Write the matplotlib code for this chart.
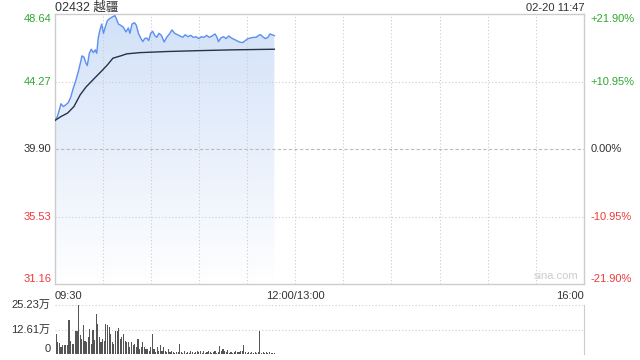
import matplotlib.pyplot as plt
import matplotlib.patches as patches
from matplotlib.colors import LinearSegmentedColormap
import numpy as np

plt.rcParams['font.family'] = ['Liberation Sans', 'Noto Sans CJK SC']

# chart texts
title = '02432 越疆'
stamp = '02-20 11:47'
time_labels = ['09:30', '12:00/13:00', '16:00']
time_pos = [0, 150, 330]
price_ticks = [48.64, 44.27, 39.90, 35.53, 31.16]
pct_labels = ['+21.90%', '+10.95%', '0.00%', '-10.95%', '-21.90%']
vol_ticks = [25.23, 12.61, 0]
vol_labels = ['25.23万', '12.61万', '0']

# price line (minutes after 09:30, HKD)
price_min = [0.3, 1.8, 3.0, 4.0, 5.5, 7.0, 8.6, 10.1, 11.7, 13.4, 15.1, 16.3, 17.1, 18.4,
             19.6, 20.4, 21.7, 22.9, 24.2, 25.4, 26.3, 27.3, 28.4, 29.4, 30.5, 31.7, 32.9,
             34.6, 36.3, 37.7, 38.7, 39.8, 41.2, 42.9, 44.5, 46.0, 47.0, 48.3, 49.8, 51.0,
             52.3, 53.5, 55.0, 56.2, 57.4, 58.7, 59.9, 61.2, 62.4, 63.7, 65.1, 66.6, 68.3,
             69.9, 71.6, 73.2, 74.9, 76.6, 78.2, 79.9, 81.5, 83.2, 84.9, 86.5, 88.2, 89.9,
             91.5, 93.2, 94.8, 96.5, 98.2, 100.0, 101.1, 102.2, 103.6, 105.3, 106.9, 108.6,
             110.2, 111.9, 113.5, 115.2, 117.3, 118.9, 120.6, 122.2, 123.9, 125.6, 127.2,
             128.5, 129.7, 131.4, 133.0, 134.3, 135.5, 137.0]
price = [41.75, 42.01, 42.44, 42.83, 42.65, 42.76, 42.91, 43.26, 43.84, 44.38, 45.02, 45.56,
         45.93, 45.84, 45.46, 45.30, 46.10, 46.36, 46.14, 46.32, 46.10, 47.13, 47.65, 47.99,
         47.39, 47.82, 48.21, 48.36, 48.47, 48.53, 48.30, 47.99, 47.91, 47.78, 47.48, 47.74,
         47.39, 47.99, 48.08, 47.91, 47.39, 47.13, 46.85, 47.05, 47.09, 46.92, 47.39, 47.52,
         47.26, 47.13, 47.39, 47.26, 46.83, 47.13, 47.35, 47.61, 47.39, 47.30, 47.22, 47.13,
         47.30, 47.17, 47.26, 47.13, 47.17, 47.05, 47.17, 47.13, 47.26, 47.13, 47.22, 47.35,
         47.17, 46.85, 47.09, 47.17, 47.05, 47.22, 47.09, 47.00, 46.92, 46.83, 46.79, 46.92,
         47.05, 47.09, 47.13, 47.13, 47.26, 47.30, 47.17, 47.05, 47.13, 47.35, 47.30, 47.24]

# average price line
avg_min = [0.3, 4.0, 8.2, 12.1, 16.0, 19.6, 25.0, 29.0, 33.0, 36.4, 41.9, 45.0, 53.3, 69.9,
           90.7, 111.4, 137.0]
avg_price = [41.75, 42.00, 42.23, 42.65, 43.41, 43.91, 44.49, 44.91, 45.35, 45.78, 45.95,
             46.06, 46.14, 46.21, 46.27, 46.32, 46.36]

# volume per minute (万)
volume = [9.7, 10.2, 6.3, 5.8, 3.7, 4.6, 4.6, 4.6, 4.6, 17.7, 7.1, 5.1, 5.1, 12.2, 12.2, 25.0,
          9.7, 8.0, 14.8, 7.1, 6.3, 8.8, 13.1, 5.4, 12.6, 7.5, 20.4, 15.6, 8.8, 6.3, 8.0, 7.1,
          15.6, 14.8, 13.9, 10.5, 6.3, 5.4, 11.9, 12.2, 13.6, 8.0, 8.8, 10.5, 7.1, 6.3, 6.3,
          3.7, 6.3, 4.6, 5.4, 3.7, 8.0, 2.9, 3.7, 6.3, 3.7, 2.9, 2.9, 2.0, 3.7, 10.5, 2.9,
          1.2, 3.7, 2.0, 4.6, 2.0, 3.7, 1.7, 1.2, 2.9, 1.2, 2.0, 1.2, 0.7, 1.2, 1.2, 5.4, 1.2,
          0.7, 1.7, 0.7, 1.2, 0.7, 1.7, 1.2, 0.7, 1.2, 1.7, 1.2, 2.0, 0.7, 1.7, 0.7, 1.2, 1.7,
          1.2, 0.7, 1.2, 1.7, 0.7, 1.2, 4.1, 2.0, 2.9, 1.7, 1.2, 2.4, 0.7, 1.2, 0.7, 1.2, 1.7,
          1.5, 1.2, 1.7, 2.0, 4.6, 1.2, 0.7, 1.2, 0.7, 1.2, 0.7, 1.2, 0.7, 1.2, 11.9, 0.7,
          1.2, 0.7, 1.2, 0.7, 1.2, 0.7, 0.7, 0.7]

green = '#2fa82f'
red = '#f03a3a'
dark = '#333333'
grid_c = '#cccccc'
label_colors = [green, green, dark, red, red]

fig = plt.figure(figsize=(6.4, 3.6), dpi=100)
ax = fig.add_axes([0.0852, 0.2111, 0.8273, 0.75])
vx = fig.add_axes([0.0852, 0.0153, 0.8273, 0.1375])

# price panel
y_lo, y_hi = price_ticks[-1], price_ticks[0]
verts = [(price_min[0], y_lo)] + list(zip(price_min, price)) + [(price_min[-1], y_lo)]
clip = patches.Polygon(verts, closed=True, facecolor='none', edgecolor='none')
ax.add_patch(clip)
cmap = LinearSegmentedColormap.from_list('fade', ['#ffffff', '#d2e1f8'])
grad = np.linspace(1, 0, 256).reshape(-1, 1)
img = ax.imshow(grad, extent=[0, 330, y_lo, y_hi], aspect='auto', cmap=cmap,
                origin='upper', zorder=1)
img.set_clip_path(clip)

ax.plot(price_min, price, color='#5b8ff0', lw=1.0, zorder=3)
ax.plot(avg_min, avg_price, color='#26324d', lw=1.0, zorder=3)

for m in range(30, 330, 30):
    ax.axvline(m, color=grid_c, lw=0.8, ls=(0, (1, 2)), zorder=2)
for v in [price_ticks[1], price_ticks[3]]:
    ax.axhline(v, color=grid_c, lw=0.8, ls=(0, (1, 2)), zorder=2)
ax.axhline(price_ticks[2], color='#bbbbbb', lw=0.8, ls=(0, (3, 2)), zorder=2)

ax.set_xlim(0, 330)
ax.set_ylim(y_lo, y_hi)
ax.set_xticks([])
ax.set_yticks([])
for s in ax.spines.values():
    s.set_color(grid_c)
    s.set_linewidth(1.0)

for i, (v, lab, pl) in enumerate(zip(price_ticks, price_ticks, pct_labels)):
    va = 'top' if i == 0 else ('bottom' if i == 4 else 'center')
    ax.text(-0.006, v, f'{lab:.2f}', transform=ax.get_yaxis_transform(), ha='right', va=va,
            fontsize=8, color=label_colors[i])
    ax.text(1.012, v, pl, transform=ax.get_yaxis_transform(), ha='left', va=va,
            fontsize=8, color=label_colors[i])

for t, lab in zip(time_pos, time_labels):
    ha = 'left' if t == 0 else ('right' if t == 330 else 'center')
    ax.text(t, -0.025, lab, transform=ax.get_xaxis_transform(), ha=ha, va='top',
            fontsize=8, color=dark)

ax.text(0.99, 0.012, 'sina.com', transform=ax.transAxes, ha='right', va='bottom',
        fontsize=8, color='#cccccc')

fig.text(0.0852, 0.978, title, ha='left', va='center', fontsize=9, color=dark)
fig.text(0.9125, 0.978, stamp, ha='right', va='center', fontsize=8, color=dark)

# volume panel
vx.bar(range(len(volume)), volume, width=0.7, color='#555555', zorder=3)
for v in vol_ticks:
    vx.axhline(v, color=grid_c, lw=0.8, ls=(0, (1, 2)), zorder=1)
vx.set_xlim(0, 330)
vx.set_ylim(0, vol_ticks[0])
vx.set_xticks([])
vx.set_yticks([])
for k in ['top', 'bottom', 'left']:
    vx.spines[k].set_visible(False)
vx.spines['right'].set_color(grid_c)
for v, lab in zip(vol_ticks, vol_labels):
    va = 'bottom' if v == 0 else 'center'
    vx.text(-0.008, v, lab, transform=vx.get_yaxis_transform(), ha='right', va=va,
            fontsize=8, color=dark)

fig.savefig('out.png', dpi=100)
